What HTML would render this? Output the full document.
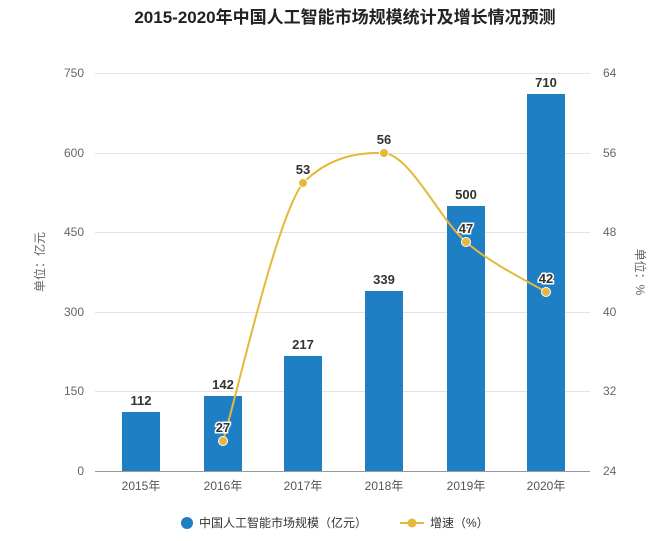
<!DOCTYPE html>
<html><head><meta charset="utf-8"><style>
body{margin:0;background:#fff;}
svg{display:block;font-family:"Liberation Sans","Noto Sans CJK SC",sans-serif;}
</style></head><body>
<svg width="660" height="541" viewBox="0 0 660 541" xmlns="http://www.w3.org/2000/svg">
<text x="345" y="23" text-anchor="middle" font-size="17" font-weight="bold" fill="#222">2015-2020年中国人工智能市场规模统计及增长情况预测</text>
<g stroke="#e3e3e3" stroke-width="1">
<line x1="95" y1="73.5" x2="590" y2="73.5"/>
<line x1="95" y1="153.5" x2="590" y2="153.5"/>
<line x1="95" y1="232.5" x2="590" y2="232.5"/>
<line x1="95" y1="312.5" x2="590" y2="312.5"/>
<line x1="95" y1="391.5" x2="590" y2="391.5"/>
</g>
<line x1="95" y1="471.5" x2="590" y2="471.5" stroke="#999"/>
<g font-size="12" fill="#666" text-anchor="end">
<text x="84" y="77">750</text><text x="84" y="157">600</text><text x="84" y="236">450</text>
<text x="84" y="316">300</text><text x="84" y="395">150</text><text x="84" y="475">0</text>
</g>
<g font-size="12" fill="#666" text-anchor="start">
<text x="603" y="77">64</text><text x="603" y="157">56</text><text x="603" y="236">48</text>
<text x="603" y="316">40</text><text x="603" y="395">32</text><text x="603" y="475">24</text>
</g>
<text transform="translate(44,262) rotate(-90)" font-size="12" fill="#666" text-anchor="middle">单位：亿元</text>
<text transform="translate(636,272) rotate(90)" font-size="12" fill="#666" text-anchor="middle">单位：%</text>
<g fill="#1e7fc4">
<rect x="122" y="412" width="38" height="59"/>
<rect x="204" y="396" width="38" height="75"/>
<rect x="284" y="356" width="38" height="115"/>
<rect x="365" y="291" width="38" height="180"/>
<rect x="447" y="206" width="38" height="265"/>
<rect x="527" y="94" width="38" height="377"/>
</g>
<g font-size="13" font-weight="bold" fill="#333" text-anchor="middle">
<text x="141" y="405">112</text><text x="223" y="389">142</text><text x="303" y="349">217</text>
<text x="384" y="284">339</text><text x="466" y="199">500</text><text x="546" y="87">710</text>
</g>
<g font-size="12" fill="#555" text-anchor="middle">
<text x="141" y="490">2015年</text><text x="223" y="490">2016年</text><text x="303" y="490">2017年</text>
<text x="384" y="490">2018年</text><text x="466" y="490">2019年</text><text x="546" y="490">2020年</text>
</g>
<path d="M223,441 C236.3,398 276,218 303,183 C328,158 356,152 384,153 C411.2,156 439,218.8 466,242 C493,265.2 532.7,283.7 546,292" fill="none" stroke="#e6b83a" stroke-width="2"/>
<g fill="#e6b83a" stroke="#fff" stroke-width="1">
<circle cx="223" cy="441" r="4.5"/><circle cx="303" cy="183" r="4.5"/><circle cx="384" cy="153" r="4.5"/>
<circle cx="466" cy="242" r="4.5"/><circle cx="546" cy="292" r="4.5"/>
</g>
<g font-size="13" font-weight="bold" text-anchor="middle" fill="#333" stroke="#fff" stroke-width="3" paint-order="stroke">
<text x="223" y="432">27</text><text x="303" y="174">53</text><text x="384" y="144">56</text>
<text x="466" y="233">47</text><text x="546" y="283">42</text>
</g>
<circle cx="187" cy="523" r="6" fill="#1e7fc4"/>
<text x="199" y="527" font-size="12" fill="#333">中国人工智能市场规模（亿元）</text>
<line x1="400" y1="523" x2="424" y2="523" stroke="#e6b83a" stroke-width="2"/>
<circle cx="412" cy="523" r="4.5" fill="#e6b83a"/>
<text x="430" y="527" font-size="12" fill="#333">增速（%）</text>
</svg>
</body></html>
